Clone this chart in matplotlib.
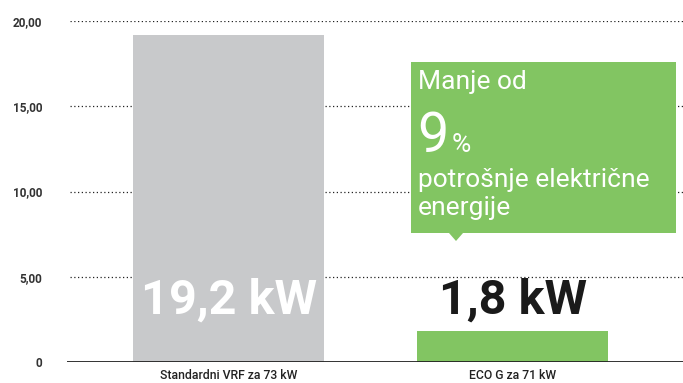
import matplotlib.pyplot as plt
from matplotlib.patches import Polygon

plt.rcParams['font.family'] = ['Roboto', 'DejaVu Sans']

categories = ["Standardni VRF za 73 kW", "ECO G za 71 kW"]
power_kw = [19.2, 1.8]
value_labels = ["19,2 kW", "1,8 kW"]
bar_colors = ["#c8c9cb", "#82c562"]
yticks = [0, 5, 10, 15, 20]
ytick_labels = ["0", "5,00", "10,00", "15,00", "20,00"]

W, H = 683, 383
fig = plt.figure(figsize=(W / 100, H / 100), dpi=100)
ax = fig.add_axes([67 / W, 1 - 362 / H, 616 / W, 341 / H])

x = [0, 1]
ax.bar(x, power_kw, width=0.672, color=bar_colors, zorder=2)

ax.set_xlim(-0.569, 1.6)
ax.set_ylim(0, 20)

# dotted grid lines behind the bars
for v in yticks[1:]:
    ax.axhline(v, xmin=3 / 616, color="#222222", lw=0.9,
               linestyle=(0, (1, 2)), zorder=1)
ax.axhline(0, color="#222222", lw=1.3, zorder=3)

for s in ax.spines.values():
    s.set_visible(False)
ax.set_yticks(yticks)
ax.set_yticklabels(ytick_labels, fontsize=8.5, color="#333333", fontweight="bold")
ax.tick_params(axis="y", length=0, pad=18)
ax.set_xticks(x)
ax.set_xticklabels(categories, fontsize=8.8, color="#222222", fontweight="medium")
ax.tick_params(axis="x", length=0, pad=5)

# value labels in the lower part of the plot
ax.text(x[0], 3.6, value_labels[0], ha="center", va="center",
        fontsize=35, fontweight="bold", color="white", zorder=4)
ax.text(x[1], 3.6, value_labels[1], ha="center", va="center",
        fontsize=35, fontweight="bold", color="#1a1a1a", zorder=4)


def fx(px):
    return px / W


def fy(py):
    return 1 - py / H


# green callout box with a small pointer
box = Polygon([(fx(411), fy(62)), (fx(676), fy(62)), (fx(676), fy(233)),
               (fx(463), fy(233)), (fx(456), fy(241)), (fx(449), fy(233)),
               (fx(411), fy(233))],
              closed=True, transform=fig.transFigure, facecolor="#82c562",
              edgecolor="none", zorder=5)
fig.patches.append(box)

txt = dict(color="white", va="baseline", zorder=6)
fig.text(fx(418), fy(89), "Manje od", fontsize=19, **txt)
fig.text(fx(417), fy(152), "9", fontsize=40, **txt)
fig.text(fx(452), fy(152), "%", fontsize=19, **txt)
fig.text(fx(418), fy(187), "potrošnje električne", fontsize=19, **txt)
fig.text(fx(418), fy(215), "energije", fontsize=19, **txt)

fig.savefig("out.png", dpi=100)
